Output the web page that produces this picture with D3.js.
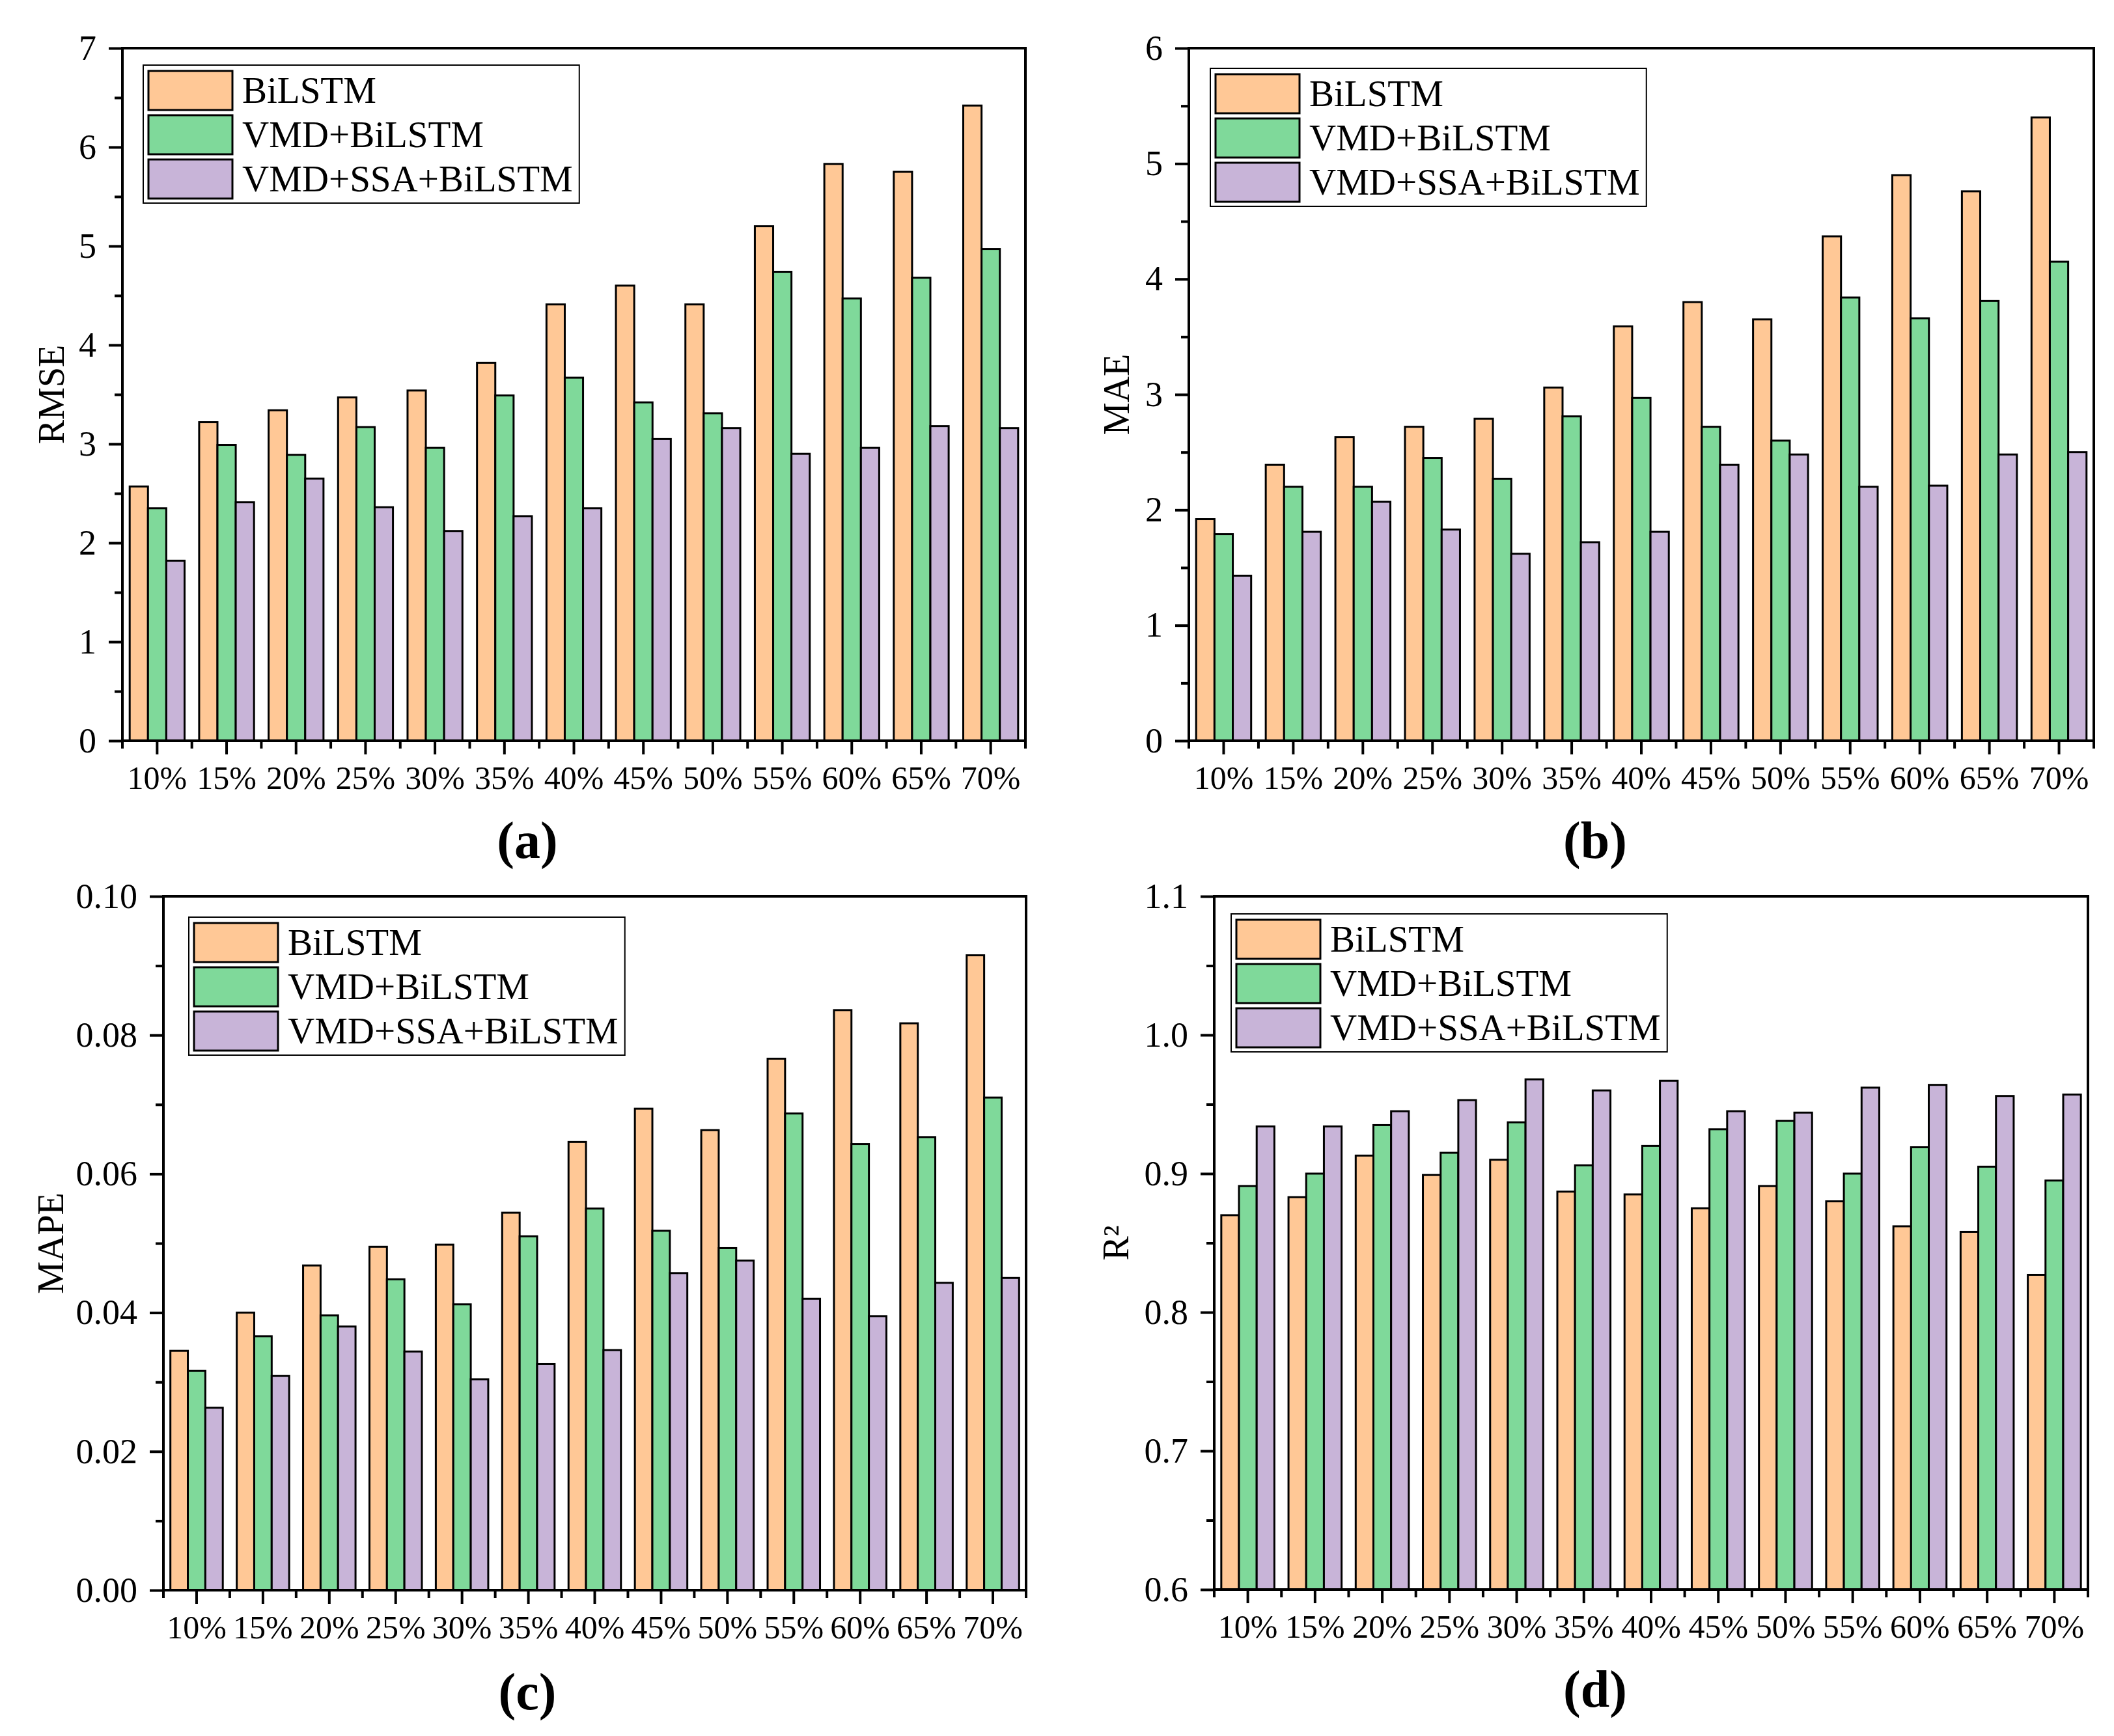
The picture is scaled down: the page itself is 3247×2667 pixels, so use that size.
<!DOCTYPE html>
<html>
<head>
<meta charset="utf-8">
<script src="https://cdn.jsdelivr.net/npm/d3@7.9.0/dist/d3.min.js"></script>
<style>
  body { margin: 0; background: #fff; }
  svg { display: block; }
  text { font-family: "Liberation Serif", "Times New Roman", serif; fill: #000; }
</style>
</head>
<body>
<svg id="chart" width="3247" height="2667"></svg>
<script>
const categories = ['10%', '15%', '20%', '25%', '30%', '35%', '40%', '45%', '50%', '55%', '60%', '65%', '70%'];
const seriesNames = ['BiLSTM', 'VMD+BiLSTM', 'VMD+SSA+BiLSTM'];
const seriesColors = ['#FFC896', '#7FD99A', '#C8B4D8'];

const rmseBiLSTM = [2.57, 3.22, 3.34, 3.47, 3.54, 3.82, 4.41, 4.60, 4.41, 5.20, 5.83, 5.75, 6.42];
const rmseVmd = [2.35, 2.99, 2.89, 3.17, 2.96, 3.49, 3.67, 3.42, 3.31, 4.74, 4.47, 4.68, 4.97];
const rmseVmdSsa = [1.82, 2.41, 2.65, 2.36, 2.12, 2.27, 2.35, 3.05, 3.16, 2.90, 2.96, 3.18, 3.16];

const maeBiLSTM = [1.92, 2.39, 2.63, 2.72, 2.79, 3.06, 3.59, 3.80, 3.65, 4.37, 4.90, 4.76, 5.40];
const maeVmd = [1.79, 2.20, 2.20, 2.45, 2.27, 2.81, 2.97, 2.72, 2.60, 3.84, 3.66, 3.81, 4.15];
const maeVmdSsa = [1.43, 1.81, 2.07, 1.83, 1.62, 1.72, 1.81, 2.39, 2.48, 2.20, 2.21, 2.48, 2.50];

const mapeBiLSTM = [0.0345, 0.0400, 0.0468, 0.0495, 0.0498, 0.0544, 0.0646, 0.0694, 0.0663, 0.0766, 0.0836, 0.0817, 0.0915];
const mapeVmd = [0.0316, 0.0366, 0.0396, 0.0448, 0.0412, 0.0510, 0.0550, 0.0518, 0.0493, 0.0687, 0.0643, 0.0653, 0.0710];
const mapeVmdSsa = [0.0263, 0.0309, 0.0380, 0.0344, 0.0304, 0.0326, 0.0346, 0.0457, 0.0475, 0.0420, 0.0395, 0.0443, 0.0450];

const r2BiLSTM = [0.870, 0.883, 0.913, 0.899, 0.910, 0.887, 0.885, 0.875, 0.891, 0.880, 0.862, 0.858, 0.827];
const r2Vmd = [0.891, 0.900, 0.935, 0.915, 0.937, 0.906, 0.920, 0.932, 0.938, 0.900, 0.919, 0.905, 0.895];
const r2VmdSsa = [0.934, 0.934, 0.945, 0.953, 0.968, 0.960, 0.967, 0.945, 0.944, 0.962, 0.964, 0.956, 0.957];

const rmseTicks = [0, 1, 2, 3, 4, 5, 6, 7];
const maeTicks = [0, 1, 2, 3, 4, 5, 6];
const mapeTicks = [0, 0.02, 0.04, 0.06, 0.08, 0.10];
const r2Ticks = [0.6, 0.7, 0.8, 0.9, 1.0, 1.1];

const panels = [
  { tag: '(a)', title: 'RMSE', series: [rmseBiLSTM, rmseVmd, rmseVmdSsa], ticks: rmseTicks, fmt: d3.format('d'),
    left: 188, right: 1575, top: 74, bottom: 1138, titleX: 98, capX: 810, capY: 1318, legX: 220, legY: 100 },
  { tag: '(b)', title: 'MAE', series: [maeBiLSTM, maeVmd, maeVmdSsa], ticks: maeTicks, fmt: d3.format('d'),
    left: 1826, right: 3216, top: 74, bottom: 1138, titleX: 1734, capX: 2450, capY: 1318, legX: 1859, legY: 105 },
  { tag: '(c)', title: 'MAPE', series: [mapeBiLSTM, mapeVmd, mapeVmdSsa], ticks: mapeTicks, fmt: d3.format('.2f'),
    left: 251, right: 1576, top: 1377, bottom: 2443, titleX: 97, capX: 810, capY: 2626, legX: 290, legY: 1409 },
  { tag: '(d)', title: 'R²', series: [r2BiLSTM, r2Vmd, r2VmdSsa], ticks: r2Ticks, fmt: d3.format('.1f'),
    left: 1865, right: 3207, top: 1377, bottom: 2442, titleX: 1733, capX: 2450, capY: 2622, legX: 1891, legY: 1404 }
];

const svg = d3.select('#chart');

function drawPanel(p) {
  const g = svg.append('g');
  const lo = p.ticks[0];
  const hi = p.ticks[p.ticks.length - 1];

  const y = d3.scaleLinear().domain([lo, hi]).range([p.bottom, p.top]);
  const x0 = d3.scaleBand().domain(categories).range([p.left, p.right])
    .paddingInner(0.21).paddingOuter(0.105);
  const x1 = d3.scaleBand().domain(d3.range(seriesNames.length)).range([0, x0.bandwidth()]);

  // bars
  categories.forEach((c, i) => {
    p.series.forEach((vals, s) => {
      g.append('rect')
        .attr('x', x0(c) + x1(s))
        .attr('y', y(vals[i]))
        .attr('width', x1.bandwidth())
        .attr('height', y(lo) - y(vals[i]))
        .attr('fill', seriesColors[s])
        .attr('stroke', '#000')
        .attr('stroke-width', 3);
    });
  });

  // left axis, major + minor
  const minors = d3.pairs(p.ticks).map(([a, b]) => (a + b) / 2);
  const yAxis = g.append('g').attr('transform', `translate(${p.left},0)`)
    .call(d3.axisLeft(y).tickValues(p.ticks).tickFormat(p.fmt).tickSize(21).tickPadding(19));
  yAxis.select('.domain').remove();
  yAxis.selectAll('line').attr('stroke-width', 4);
  yAxis.selectAll('text').attr('font-size', 54).attr('font-family', '"Liberation Serif", serif');

  const yMinor = g.append('g').attr('transform', `translate(${p.left},0)`)
    .call(d3.axisLeft(y).tickValues(minors).tickFormat('').tickSize(12));
  yMinor.select('.domain').remove();
  yMinor.selectAll('line').attr('stroke-width', 4);

  // bottom axis
  const xAxis = g.append('g').attr('transform', `translate(0,${p.bottom})`)
    .call(d3.axisBottom(x0).tickSize(21).tickPadding(17).tickSizeOuter(0));
  xAxis.select('.domain').remove();
  xAxis.selectAll('line').attr('stroke-width', 4);
  xAxis.selectAll('text').attr('font-size', 50).attr('font-family', '"Liberation Serif", serif');

  const step = x0.step();
  const bounds = categories.map(c => x0(c) + x0.bandwidth() / 2 - step / 2)
    .concat([x0(categories[categories.length - 1]) + x0.bandwidth() / 2 + step / 2]);
  g.append('g').selectAll('line').data(bounds).join('line')
    .attr('x1', d => d).attr('x2', d => d)
    .attr('y1', p.bottom).attr('y2', p.bottom + 12)
    .attr('stroke', '#000').attr('stroke-width', 4);

  // frame
  g.append('rect')
    .attr('x', p.left).attr('y', p.top)
    .attr('width', p.right - p.left).attr('height', p.bottom - p.top)
    .attr('fill', 'none').attr('stroke', '#000').attr('stroke-width', 4);

  // y title
  g.append('text')
    .attr('transform', `translate(${p.titleX},${(p.top + p.bottom) / 2}) rotate(-90)`)
    .attr('text-anchor', 'middle')
    .attr('font-size', 56)
    .text(p.title);

  // sub caption
  g.append('text')
    .attr('x', p.capX).attr('y', p.capY)
    .attr('text-anchor', 'middle')
    .attr('font-size', 80)
    .attr('font-weight', 'bold')
    .text(p.tag);

  // legend
  const leg = g.append('g').attr('transform', `translate(${p.legX},${p.legY})`);
  const box = leg.append('rect')
    .attr('x', 0).attr('y', 0).attr('height', 212)
    .attr('fill', '#fff').attr('stroke', '#000').attr('stroke-width', 2);
  let maxW = 0;
  seriesNames.forEach((name, s) => {
    leg.append('rect')
      .attr('x', 8).attr('y', 9 + s * 68)
      .attr('width', 129).attr('height', 60)
      .attr('fill', seriesColors[s]).attr('stroke', '#000').attr('stroke-width', 3);
    const t = leg.append('text')
      .attr('x', 152).attr('y', 9 + s * 68 + 30)
      .attr('dy', '0.33em')
      .attr('font-size', 57)
      .text(name);
    maxW = Math.max(maxW, t.node().getComputedTextLength());
  });
  box.attr('width', 152 + maxW + 10);
}

panels.forEach(drawPanel);
</script>
</body>
</html>
